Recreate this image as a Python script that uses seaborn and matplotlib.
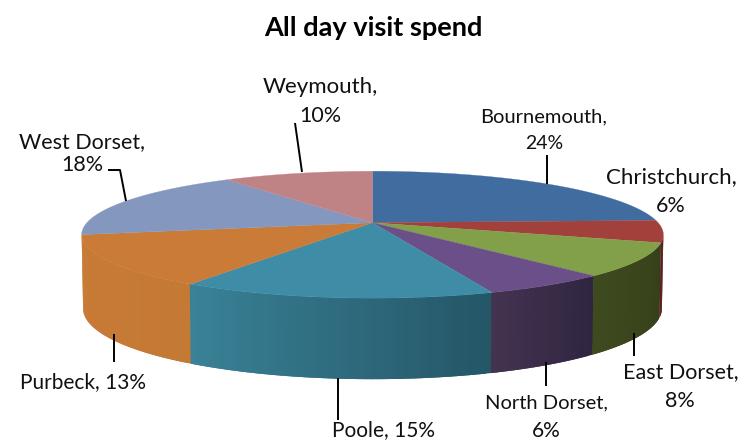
import numpy as np
import seaborn as sns
import matplotlib
matplotlib.use("Agg")
import matplotlib.pyplot as plt

districts = ["Bournemouth", "Christchurch", "East Dorset", "North Dorset",
             "Poole", "Purbeck", "West Dorset", "Weymouth"]
shares = [24.4, 5.6, 8.4, 6.0, 14.6, 13.0, 18.0, 10.0]

top_colors = ["#416C9F", "#A2403C", "#82A04A", "#6B4F88",
              "#3E8CA6", "#C97B37", "#8497BE", "#C08385"]
wall_start = ["#2F5078", "#5A1F1F", "#363F1A", "#2F2540",
              "#245666", "#C47934", "#8497BE", "#C08385"]
wall_end = ["#2F5078", "#5A1F1F", "#3E4A1E", "#433350",
            "#3A8298", "#C87B36", "#8497BE", "#C08385"]

sns.set_theme(style="white")
plt.rcParams["font.family"] = ["Lato", "DejaVu Sans"]

# perspective of the disc, in pixels
cx, cy = 372.5, 222.7
rx, ry, p = 285.6, 61.2, 0.189


def rim(theta):
    w = 1 + p * np.cos(theta)
    return cx + rx * np.sin(theta) / w, cy - ry * np.cos(theta) / w


def wall_height(theta):
    return 72 - 9 * np.cos(theta)


fig = plt.figure(figsize=(7.51, 4.44), dpi=100)
ax = fig.add_axes([0, 0, 1, 1])
ax.set_xlim(0, 751)
ax.set_ylim(444, 0)
ax.axis("off")

edges = np.radians(np.cumsum([0] + shares) / sum(shares) * 360)

# side wall, only the part facing the viewer, right to left
vis_from = np.arccos(-p)
vis_to = 2 * np.pi - vis_from
for i in range(len(shares)):
    a = max(edges[i], vis_from)
    b = min(edges[i + 1], vis_to)
    if b <= a:
        continue
    n = max(int(np.degrees(b - a)), 2)
    shades = sns.blend_palette([wall_start[i], wall_end[i]], n)
    steps = np.linspace(a, b, n + 1)
    # each strip runs under the next one so no seams show
    for j in range(n):
        end = steps[j + 1] + (0.02 if j < n - 1 else 0)
        t = np.linspace(steps[j], end, 6)
        x, y = rim(t)
        h = wall_height(t)
        bx = cx + (x - cx) * 0.995
        ax.fill(np.r_[x, bx[::-1]], np.r_[y, (y + h)[::-1]],
                color=shades[j], lw=0, zorder=2 + j * 1e-3)

# top face
for i in range(len(shares)):
    t = np.linspace(edges[i], edges[i + 1], 80)
    x, y = rim(t)
    ax.fill(np.r_[cx, x], np.r_[cy, y], color=top_colors[i], lw=0.2, zorder=3)

ax.text(373, 28, "All day visit spend", ha="center", va="center",
        fontsize=19.5, fontweight="bold", color="black")

# labels: name, value, where the two lines sit
label_text = [f"{d}," for d in districts]
value_text = [f"{s:.0f}%" for s in shares]
txt = dict(ha="center", va="center", color="#111111")
ax.text(544, 117, label_text[0], fontsize=14.5, **txt)
ax.text(544, 143, value_text[0], fontsize=14, **txt)
ax.text(671, 177, label_text[1], fontsize=16, **txt)
ax.text(671, 206, value_text[1], fontsize=15.5, **txt)
ax.text(681, 372, label_text[2], fontsize=15.5, **txt)
ax.text(680, 401, value_text[2], fontsize=15.5, **txt)
ax.text(546, 403, label_text[3], fontsize=14.5, **txt)
ax.text(546, 431, value_text[3], fontsize=15, **txt)
ax.text(384, 430, f"{districts[4]}, {value_text[4]}", fontsize=15, **txt)
ax.text(83, 382, f"{districts[5]}, {value_text[5]}", fontsize=15, **txt)
ax.text(82, 142, label_text[6], fontsize=15.5, **txt)
ax.text(82, 165, value_text[6], fontsize=15.5, **txt)
ax.text(320, 87, label_text[7], fontsize=16, **txt)
ax.text(320, 116, value_text[7], fontsize=15.5, **txt)

# leader lines
leaders = [
    ([295, 302], [123, 172]),
    ([108, 120, 126], [170, 170, 201]),
    ([547, 547], [155, 184]),
    ([634, 634], [333, 356]),
    ([546, 546], [362, 386]),
    ([338, 338], [378, 420]),
    ([114, 114], [334, 362]),
]
for lx, ly in leaders:
    ax.plot(lx, ly, color="black", lw=1.4, zorder=4, solid_capstyle="butt")

fig.savefig("out.png", dpi=100)
